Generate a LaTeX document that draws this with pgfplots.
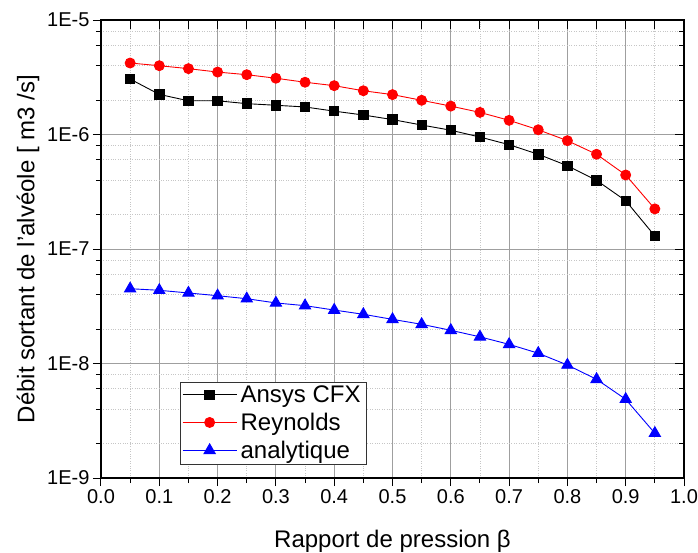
\documentclass[border=0pt]{standalone}
\usepackage{fontspec}
\setmainfont{Liberation Sans}
\usepackage{pgfplots}
\pgfplotsset{compat=1.18}
\pgfplotstableread{
x y
0.05 3.05e-6
0.10 2.24e-6
0.15 1.97e-6
0.20 1.97e-6
0.25 1.86e-6
0.30 1.80e-6
0.35 1.74e-6
0.40 1.60e-6
0.45 1.48e-6
0.50 1.35e-6
0.55 1.21e-6
0.60 1.09e-6
0.65 9.5e-7
0.70 8.15e-7
0.75 6.72e-7
0.80 5.34e-7
0.85 3.98e-7
0.90 2.64e-7
0.95 1.30e-7
}\ansys
\pgfplotstableread{
x y
0.05 4.21e-6
0.10 3.99e-6
0.15 3.76e-6
0.20 3.51e-6
0.25 3.33e-6
0.30 3.10e-6
0.35 2.86e-6
0.40 2.67e-6
0.45 2.41e-6
0.50 2.23e-6
0.55 1.99e-6
0.60 1.77e-6
0.65 1.56e-6
0.70 1.33e-6
0.75 1.10e-6
0.80 8.83e-7
0.85 6.72e-7
0.90 4.43e-7
0.95 2.24e-7
}\reynolds
\pgfplotstableread{
x y
0.05 4.50e-8
0.10 4.36e-8
0.15 4.13e-8
0.20 3.91e-8
0.25 3.68e-8
0.30 3.38e-8
0.35 3.20e-8
0.40 2.93e-8
0.45 2.69e-8
0.50 2.43e-8
0.55 2.20e-8
0.60 1.95e-8
0.65 1.71e-8
0.70 1.47e-8
0.75 1.23e-8
0.80 9.7e-9
0.85 7.28e-9
0.90 4.87e-9
0.95 2.46e-9
}\analytique
\begin{document}
\begin{tikzpicture}
\useasboundingbox (-101pt,-75pt) rectangle (597pt,478pt);
\begin{axis}[
  at={(0pt,0pt)}, anchor=south west,
  scale only axis, width=583pt, height=458pt,
  ymode=log, xmin=0, xmax=1, ymin=1e-9, ymax=1e-5,
  ytick={1e-9,1e-8,1e-7,1e-6,1e-5},
  minor ytick={2e-9,4e-9,6e-9,8e-9,2e-8,4e-8,6e-8,8e-8,2e-7,4e-7,6e-7,8e-7,2e-6,4e-6,6e-6,8e-6},
  axis line style={line width=1.6pt},
  tick style={black, line width=1pt},
  xtick={0,0.1,0.2,0.3,0.4,0.5,0.6,0.7,0.8,0.9,1},
  minor xtick={0.05,0.15,0.25,0.35,0.45,0.55,0.65,0.75,0.85,0.95},
  yticklabels={1E-9,1E-8,1E-7,1E-6,1E-5},
  xticklabel style={/pgf/number format/.cd, fixed, fixed zerofill, precision=1, assume math mode=true},
  tick label style={font=\fontsize{20}{23}\selectfont},
  tick align=outside, tick pos=left,
  major tick length=8pt, minor tick length=5pt,
  grid=both,
  major grid style={draw=gray!75, line width=0.9pt},
  minor grid style={draw=gray!45, dotted, line width=0.9pt},
  xlabel={Rapport de pression β},
  ylabel={Débit sortant de l'alvéole [ m3 /s]},
  label style={font=\fontsize{24}{28}\selectfont},
  xlabel style={at={(axis description cs:0.5,-0.1507)}, anchor=base},
  ylabel style={at={(axis description cs:-0.125,0.5)}, anchor=center},
  legend style={at={(0.1355,0.0306)}, anchor=south west, draw=black!80,
    font=\fontsize{24}{28}\selectfont, inner xsep=2pt, inner ysep=2pt,
    row sep=5pt, nodes={inner xsep=3.5pt}},
  legend cell align=left,
  legend image code/.code={\draw[mark repeat=2,mark phase=2,#1] plot coordinates {(0pt,0pt) (27pt,0pt) (54pt,0pt)};},
]
\addplot[black, line width=0.9pt, mark=square*, mark size=4.7pt, mark options={solid, fill=black}] table {\ansys};
\addlegendentry{Ansys CFX}
\addplot[red, line width=0.9pt, mark=*, mark size=5pt, mark options={solid, fill=red}] table {\reynolds};
\addlegendentry{Reynolds}
\addplot[blue, line width=0.9pt, mark=triangle*, mark size=6.5pt, mark options={solid, fill=blue}] table {\analytique};
\addlegendentry{analytique}
\end{axis}
\begin{axis}[
  at={(0pt,0pt)}, anchor=south west,
  scale only axis, width=583pt, height=458pt,
  ymode=log, xmin=0, xmax=1, ymin=1e-9, ymax=1e-5,
  ytick={1e-9,1e-8,1e-7,1e-6,1e-5},
  minor ytick={2e-9,4e-9,6e-9,8e-9,2e-8,4e-8,6e-8,8e-8,2e-7,4e-7,6e-7,8e-7,2e-6,4e-6,6e-6,8e-6},
  axis line style={line width=1.6pt},
  tick style={black, line width=1pt},
  xtick={0.05,0.1,0.15,0.2,0.25,0.3,0.35,0.4,0.45,0.5,0.55,0.6,0.65,0.7,0.75,0.8,0.85,0.9,0.95},
  xticklabels={}, yticklabels={},
  tick align=inside, tick pos=right,
  major tick length=9pt, minor tick length=5pt,
]
\addplot[draw=none] coordinates {(0.5,1e-7)};
\end{axis}
\end{tikzpicture}
\end{document}
